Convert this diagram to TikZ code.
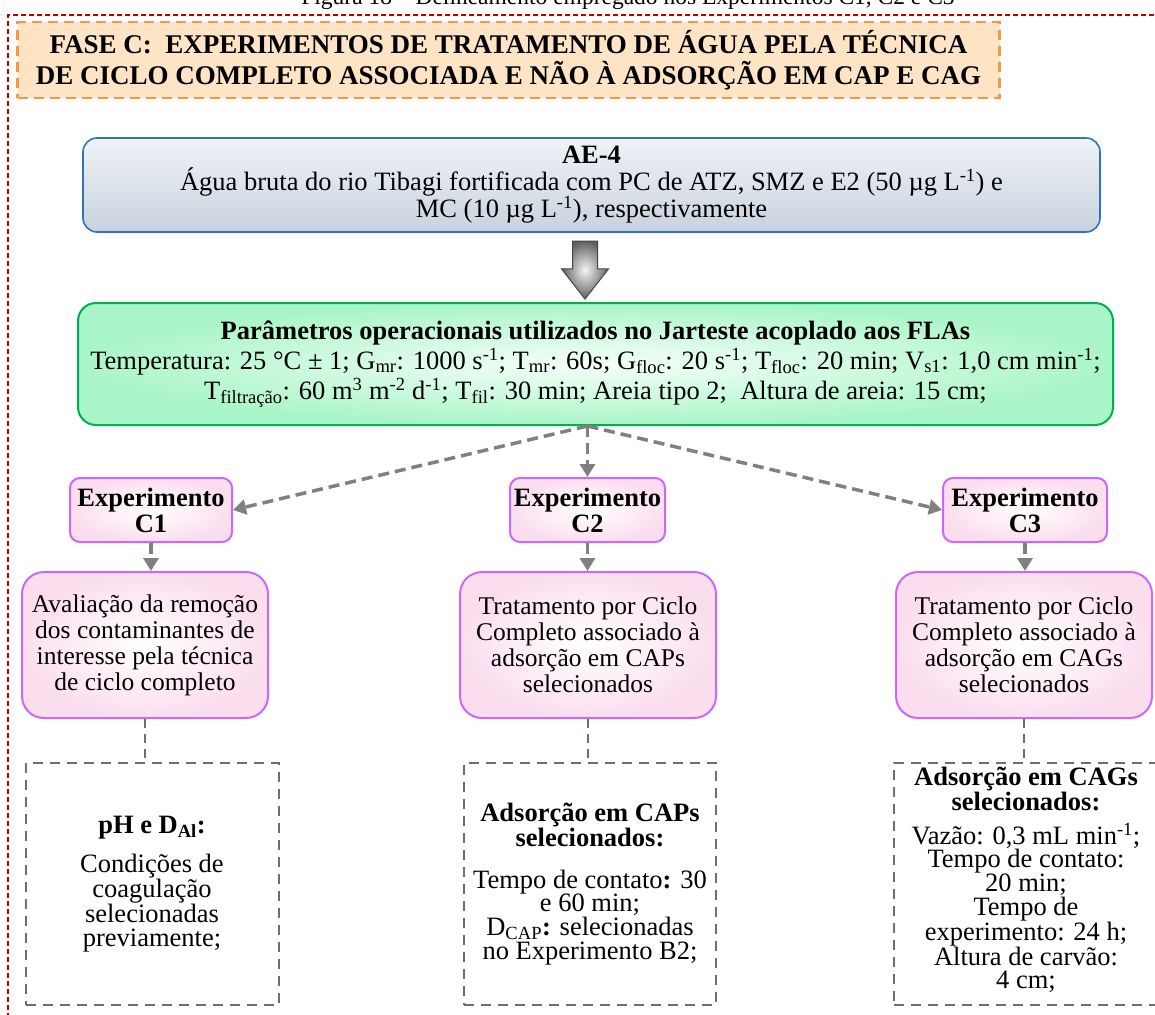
\documentclass[tikz,border=0pt]{standalone}
\usepackage{fontspec}
\setmainfont{Liberation Serif}
\usetikzlibrary{arrows.meta,shapes.arrows}

\definecolor{framered}{RGB}{192,0,0}
\definecolor{titleorange}{RGB}{247,150,70}
\definecolor{titlefill}{RGB}{252,228,196}
\definecolor{blueedge}{RGB}{46,117,182}
\definecolor{bluelight}{RGB}{240,243,247}
\definecolor{bluedark}{RGB}{200,210,222}
\definecolor{greenedge}{RGB}{0,176,80}
\definecolor{greenlight}{RGB}{246,255,249}
\definecolor{greendark}{RGB}{170,245,200}
\definecolor{violetedge}{RGB}{204,102,255}
\definecolor{pinkfill}{RGB}{251,222,238}
\definecolor{linkgray}{RGB}{128,128,128}
\definecolor{boxgray}{RGB}{110,110,110}

\tikzset{
  link/.style={draw=linkgray, line width=3.5pt, dash pattern=on 11pt off 6pt,
    -{Triangle[length=13pt,width=15pt]}},
  plainlink/.style={draw=boxgray, line width=2pt, dash pattern=on 9pt off 6pt},
  sourcebox/.style={draw=blueedge, line width=1.6pt, rounded corners=14pt,
    top color=bluelight, bottom color=bluedark, align=center},
  parambox/.style={draw=greenedge, line width=2pt, rounded corners=18pt,
    inner color=greenlight, outer color=greendark, align=center},
  expbox/.style={draw=violetedge, line width=2pt, rounded corners=10pt,
    inner color=white, outer color=pinkfill, align=center, inner sep=2pt,
    font=\fontsize{26.5}{26}\selectfont\bfseries},
  descbox/.style={draw=violetedge, line width=2pt, rounded corners=22pt,
    inner color=white, outer color=pinkfill, align=center,
    font=\fontsize{25.5}{26}\selectfont},
  notebox/.style={draw=boxgray, line width=2pt, dash pattern=on 10pt off 7pt},
  notetext/.style={align=center, inner sep=0pt, font=\fontsize{26.5}{23.7}\selectfont},
}

\begin{document}
\begin{tikzpicture}[x=1pt,y=-1pt]
\useasboundingbox (0,0) rectangle (1155,1014);

% caption above the frame (clipped by the page edge)
\node[anchor=base, inner sep=0pt, font=\fontsize{23.5}{23.5}\selectfont]
  (caption) at (628,5) {Figura 18 – Delineamento empregado nos Experimentos C1, C2 e C3};

% outer dashed frame
\draw[framered, line width=1.8pt, dash pattern=on 5pt off 3pt] (1170,15) -- (8,15) -- (8,1030);

% phase title
\node[draw=titleorange, line width=2.4pt, dash pattern=on 10pt off 6pt, fill=titlefill,
  minimum width=982pt, minimum height=76pt, align=center,
  font=\fontsize{27}{31}\selectfont\bfseries] (phase) at (508.5,60)
  {FASE C:\ \ EXPERIMENTOS DE TRATAMENTO DE ÁGUA PELA TÉCNICA\\
   DE CICLO COMPLETO ASSOCIADA E NÃO À ADSORÇÃO EM CAP E CAG};

% raw water description
\node[sourcebox, minimum width=1017pt, minimum height=94pt,
  font=\fontsize{26.5}{27}\selectfont] (source) at (591.5,185)
  {\textbf{AE-4}\\
   Água bruta do rio Tibagi fortificada com PC de ATZ, SMZ e E2 (50 µg L\textsuperscript{-1}) e\\
   MC (10 µg L\textsuperscript{-1}), respectivamente};

% operating parameters
\node[parambox, minimum width=1035pt, minimum height=122pt,
  font=\fontsize{26.5}{30}\selectfont] (params) at (595.5,364)
  {\textbf{Parâmetros operacionais utilizados no Jarteste acoplado aos FLAs}\\
   Temperatura: 25 °C ± 1; G\textsubscript{mr}: 1000 s\textsuperscript{-1}; T\textsubscript{mr}: 60s; G\textsubscript{floc}: 20 s\textsuperscript{-1}; T\textsubscript{floc}: 20 min; V\textsubscript{s1}: 1,0 cm min\textsuperscript{-1};\\
   T\textsubscript{filtração}: 60 m\textsuperscript{3} m\textsuperscript{-2} d\textsuperscript{-1}; T\textsubscript{fil}: 30 min; Areia tipo 2;\ \ Altura de areia: 15 cm;};

% block arrow between the two top boxes
\node[single arrow, rotate=-90, draw=gray!55!black, line width=1pt,
  inner color=gray!8, outer color=gray!75!black,
  minimum height=58pt, inner xsep=0pt, inner ysep=12pt,
  single arrow head extend=11pt, single arrow tip angle=76,
  single arrow head indent=0pt] (flow) at (585,262) {};

% experiments
\node[expbox, minimum width=162pt, minimum height=64pt] (expA) at (151,510) {Experimento\\C1};
\node[expbox, minimum width=155pt, minimum height=64pt] (expB) at (587.5,510) {Experimento\\C2};
\node[expbox, minimum width=164pt, minimum height=64pt] (expC) at (1025,510) {Experimento\\C3};

% descriptions
\node[descbox, minimum width=246pt, minimum height=146pt] (descA) at (145,645)
  {Avaliação da remoção\\dos contaminantes de\\interesse pela técnica\\de ciclo completo};
\node[descbox, minimum width=256pt, minimum height=146pt] (descB) at (588,645)
  {Tratamento por Ciclo\\Completo associado à\\adsorção em CAPs\\selecionados};
\node[descbox, minimum width=256pt, minimum height=146pt] (descC) at (1024,645)
  {Tratamento por Ciclo\\Completo associado à\\adsorção em CAGs\\selecionados};

% condition boxes
\node[notebox, minimum width=253pt, minimum height=242pt] (noteA) at (152.5,884) {};
\node[notebox, minimum width=252pt, minimum height=242pt] (noteB) at (590,884) {};
\node[notebox, minimum width=275pt, minimum height=242pt] (noteC) at (1031.5,884) {};

\node[notetext] (noteAtext) at (152,884)
  {\textbf{pH e D\textsubscript{Al}:}\\[14pt]
   Condições de\\coagulação\\selecionadas\\previamente;};
\node[notetext] (noteBtext) at (590,884)
  {\textbf{Adsorção em CAPs}\\\textbf{selecionados:}\\[18pt]
   Tempo de contato\textbf{:} 30\\e 60 min;\\D\textsubscript{CAP}\textbf{:} selecionadas\\no Experimento B2;};
\node[notetext] (noteCtext) at (1026,880)
  {\textbf{Adsorção em CAGs}\\\textbf{selecionados:}\\[10pt]
   Vazão: 0,3 mL min\textsuperscript{-1};\\Tempo de contato:\\20 min;\\Tempo de\\experimento: 24 h;\\Altura de carvão:\\4 cm;};

% connectors
\coordinate (split) at (expB.north |- params.south);
\draw[link] (split) -- (expA.east);
\draw[link] (split) -- (expB.north);
\draw[link] (split) -- (expC.west);
\draw[link] (expA.south) -- (expA.south |- descA.north);
\draw[link] (expB.south) -- (expB.south |- descB.north);
\draw[link] (expC.south) -- (expC.south |- descC.north);
\draw[plainlink] (descA.south) -- (descA.south |- noteA.north);
\draw[plainlink] (descB.south) -- (descB.south |- noteB.north);
\draw[plainlink] (descC.south) -- (descC.south |- noteC.north);
\end{tikzpicture}
\end{document}
